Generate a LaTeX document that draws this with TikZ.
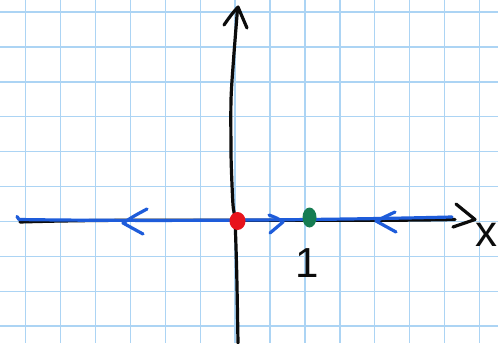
\documentclass[tikz,border=0pt]{standalone}
\usepackage{fontspec}
\setsansfont{Liberation Sans}
\usetikzlibrary{shapes.geometric}
\definecolor{gridblue}{RGB}{172,212,244}
\definecolor{penblue}{RGB}{30,92,218}
\definecolor{penred}{RGB}{232,20,28}
\definecolor{pengreen}{RGB}{22,124,82}
\definecolor{penblack}{RGB}{12,12,12}
\tikzset{
  gridline/.style={draw=gridblue, line width=1.4pt},
  ink/.style={draw=penblack, line width=3.2pt, line cap=round, line join=round},
  blueink/.style={draw=penblue, line width=3.2pt, line cap=round, line join=round},
  dotnode/.style={ellipse, inner sep=0pt, draw=none},
  handlabel/.style={inner sep=0pt, text=penblack, font=\sffamily\fontsize{42}{42}\selectfont}
}
\begin{document}
\begin{tikzpicture}[x=1pt,y=-1pt]
\useasboundingbox (0,0) rectangle (498,343);
\fill[white] (0,0) rectangle (498,343);
% grid
\foreach \i in {0,...,13} \draw[gridline] ({25.7+34.9*\i},0) -- ++(0,343);
\foreach \j in {0,...,9} \draw[gridline] (0,{12+34.9*\j}) -- ++(498,0);
% coordinates
\coordinate (axl) at (20,222);
\coordinate (axr) at (455,219.5);
\coordinate (bl) at (19,219.5);
\coordinate (br) at (452,217);
% x axis (black)
\draw[ink] (axl) .. controls (150,218) and (330,222) .. (axr);
\draw[ink] (456,204) .. controls (466,211) .. (475,219.5) .. controls (464,223) .. (453,227);
% y axis (black)
\draw[ink] plot[smooth] coordinates {(238,343) (236.7,272) (235,221) (233,205) (231.5,172) (231,150) (231,100) (233.5,60) (237.5,9)};
\draw[ink] (224,25) .. controls (231,15) .. (238,7) .. controls (243,17) .. (247,28);
% blue trajectory line
\draw[blueink] (17,216.5) -- (bl) .. controls (150,221.5) and (330,220) .. (br);
% blue arrows
\draw[blueink] (147,209) .. controls (134,216) .. (123,223) .. controls (133,228) .. (143,234);
\draw[blueink] (269,215) .. controls (277,218) .. (283,222) .. controls (277,227) .. (270,233);
\draw[blueink] (395,212) .. controls (385,216) .. (376,221) .. controls (386,226) .. (396,232);
% fixed points
\node[dotnode, fill=penred, minimum width=16pt, minimum height=18pt] (zero) at (237.5,221) {};
\node[dotnode, fill=pengreen, minimum width=14pt, minimum height=20pt] (one) at (309.5,217.5) {};
% labels
\node[handlabel] (lone) at (307,263) {1};
\node[handlabel, font=\sffamily\fontsize{44}{44}\selectfont] (lx) at (486,235) {x};
\end{tikzpicture}
\end{document}
